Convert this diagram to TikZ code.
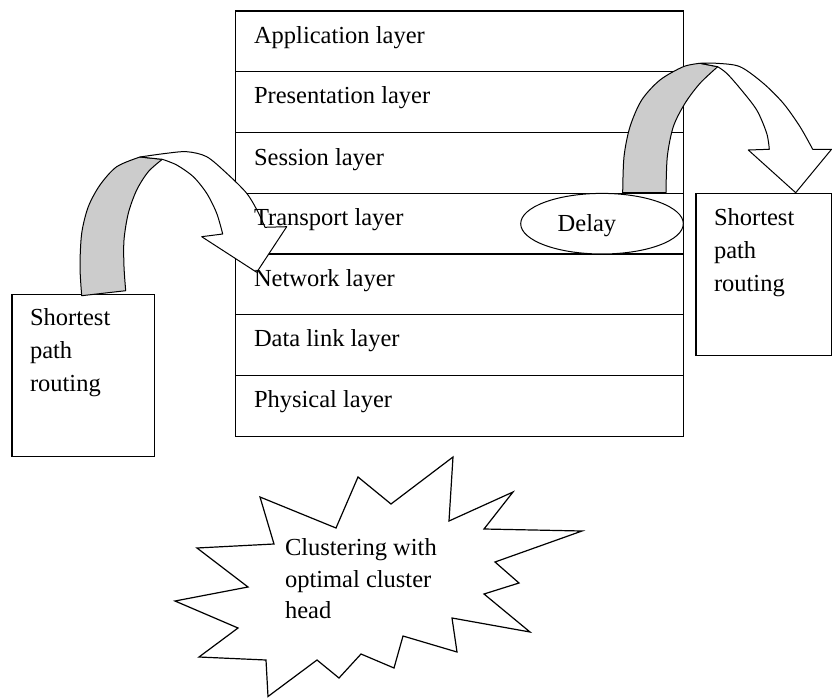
\documentclass[tikz,border=0pt]{standalone}
\usepackage{fontspec}
\setmainfont{Liberation Serif}
\usetikzlibrary{calc,shapes.geometric}
\definecolor{arrowgray}{RGB}{204,204,204}
\tikzset{
  layerbox/.style={draw, line width=1.2pt, rectangle, anchor=north west, minimum width=448pt, minimum height=60.8pt, inner sep=0pt, outer sep=0pt},
  sidebox/.style={draw, line width=1.2pt, rectangle, anchor=north west, inner sep=0pt, outer sep=0pt, fill=white},
  lbl/.style={font=\fontsize{24.5}{30}\selectfont, inner sep=0pt, outer sep=0pt, anchor=base west},
  arrowline/.style={draw, line width=1pt, line join=round},
  burst/.style={draw, line width=1.2pt, fill=white, line join=miter}
}
\begin{document}
\begin{tikzpicture}[x=1pt,y=-1pt]
\useasboundingbox (0,0) rectangle (832,698);
% layer stack
\node[layerbox, minimum height=60.7pt] (app)  at (235.7,11)    {};
\node[layerbox, minimum height=61pt]   (pres) at (235.7,71.7)  {};
\node[layerbox, minimum height=60.6pt] (sess) at (235.7,132.7) {};
\node[layerbox, minimum height=60.7pt] (trans) at (235.7,193.3) {};
\node[layerbox, minimum height=60.7pt] (net)  at (235.7,254)   {};
\node[layerbox, minimum height=61pt]   (dl)   at (235.7,314.7) {};
\node[layerbox, minimum height=61pt]   (phys) at (235.7,375.7) {};
% side boxes
\node[sidebox, minimum width=142.3pt, minimum height=162.4pt] (lbox) at (12,294.3) {};
\node[sidebox, minimum width=135.5pt, minimum height=162.4pt] (rbox) at (696,193.3) {};
% left curved arrow
\draw[arrowline, fill=arrowgray] plot[smooth] coordinates {(140,157) (116.7,166.7) (100,185) (88.3,206.7) (81.7,233.3) (80,266.7) (81.7,295.7)}
  -- plot[smooth] coordinates {(125.7,290.7) (124,266.7) (124,240) (128.3,213.3) (136.7,190) (148.3,171.7) (162.3,159.3)} -- cycle;
\draw[arrowline, fill=white] plot[smooth] coordinates {(140,157) (165,153.5) (186.7,151.7) (206.7,156.7) (226.7,173.3) (246.7,193.3) (258,212) (265,227.3)}
  -- (286.7,226.7) -- (256.7,272.3) -- (201.7,236.7) -- (222.7,234)
  -- plot[smooth] coordinates {(222.7,234) (216.7,213.3) (206.7,193.3) (193.3,176.7) (176.7,165) (162.3,159.3)} -- cycle;
% right curved arrow
\draw[arrowline, fill=arrowgray] plot[smooth] coordinates {(622.7,192.7) (624,156.7) (630,126.7) (641.7,100) (660,80) (683.3,66.7) (700,63.3)}
  -- plot[smooth] coordinates {(717.7,66.7) (700,83.3) (685,103.3) (673.3,126.7) (667.3,156.7) (666,192.7)} -- cycle;
\draw[arrowline, fill=white] plot[smooth] coordinates {(700,63.3) (716.7,63.3) (740,66.7) (763.3,83.3) (783.3,103.3) (800,126.7) (812.7,149.3)}
  -- (831.5,149.3) -- (795.7,192.7) -- (748.3,150) -- (769.3,149.3)
  -- plot[smooth] coordinates {(769.3,149.3) (766.7,133.3) (756.7,110) (740,88.3) (726.7,73.3) (717.7,66.7)} -- cycle;
% delay ellipse
\node[ellipse, draw, line width=1pt, fill=white, minimum width=162.6pt, minimum height=60.6pt, inner sep=0pt] (delay) at (602,223.7) {};
% layer labels
\node[lbl] (appT)   at ($(app.north west)+(18.3,32.3)$)   {Application layer};
\node[lbl] (presT)  at ($(pres.north west)+(18.3,32.3)$)  {Presentation layer};
\node[lbl] (sessT)  at ($(sess.north west)+(18.3,32.3)$)  {Session layer};
\node[lbl] (transT) at ($(trans.north west)+(18.3,32)$)   {Transport layer};
\node[lbl] (netT)   at ($(net.north west)+(18.3,32)$)     {Network layer};
\node[lbl] (dlT)    at ($(dl.north west)+(18.3,32)$)      {Data link layer};
\node[lbl] (physT)  at ($(phys.north west)+(18.3,31.3)$)  {Physical layer};
\node[lbl] (delayT) at (557.7,231.7) {Delay};
% box labels
\node[lbl] (l1) at ($(lbox.north west)+(18,31.6)$) {Shortest};
\node[lbl] (l2) at ($(lbox.north west)+(18,64.5)$) {path};
\node[lbl] (l3) at ($(lbox.north west)+(18,97.2)$) {routing};
\node[lbl] (r1) at ($(rbox.north west)+(18,32.4)$) {Shortest};
\node[lbl] (r2) at ($(rbox.north west)+(18,65)$)   {path};
\node[lbl] (r3) at ($(rbox.north west)+(18,98.4)$) {routing};
% starburst
\draw[burst] (260,497) -- (336,528) -- (358,477) -- (391,504) -- (453,457) -- (449,521) -- (513,492) -- (484,529) -- (582,531) -- (495,562) -- (519,583) -- (484,594) -- (530,632) -- (452,618) -- (457,652) -- (403,636) -- (394,668) -- (361,654) -- (339,678) -- (317,660) -- (268,696.5) -- (266,660) -- (199,657) -- (238,628) -- (175,601) -- (248,587) -- (197,548) -- (274,544) -- cycle;
\node[lbl] (c1) at (285,555.5) {Clustering with};
\node[lbl] (c2) at (285,587.3) {optimal cluster};
\node[lbl] (c3) at (285,618.7) {head};
\end{tikzpicture}
\end{document}
